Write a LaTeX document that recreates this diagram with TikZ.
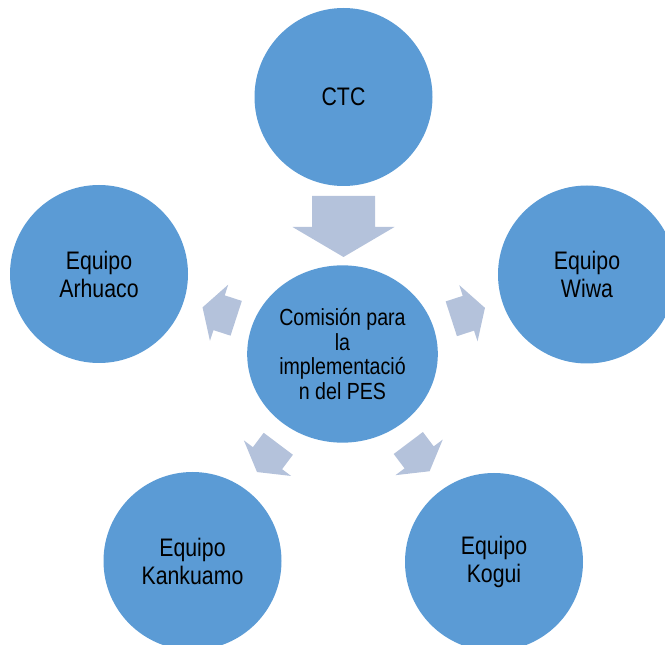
\documentclass[tikz,border=0pt]{standalone}
\usepackage{fontspec}
\setmainfont[FakeStretch=0.84]{Liberation Sans}
\usetikzlibrary{shapes.geometric}
\definecolor{circblue}{RGB}{91,155,213}
\definecolor{arrowfill}{RGB}{180,194,219}
\newcommand\blockarrow[4]{%
  \fill[arrowfill, shift={(#1,#2)}, rotate=#3, scale=#4]
    (0,-31.5) -- (31,-31.5) -- (31,-51) -- (61,0) -- (31,51) -- (31,31.5) -- (0,31.5) -- cycle;}
\begin{document}
\begin{tikzpicture}[x=0.75pt,y=-0.75pt,
  outer/.style={circle, fill=circblue, inner sep=0pt, minimum size=133.5pt,
    align=center, text=black, font=\fontsize{19}{21}\selectfont},
  inner/.style={ellipse, fill=circblue, inner sep=0pt, minimum width=143pt,
    minimum height=133pt, align=center, text=black, font=\fontsize{17.5}{18.3}\selectfont}]
\useasboundingbox (0,0) rectangle (665,645);
\clip (0,0) rectangle (665,645);
\node[outer] (ctc) at (343.5,97) {CTC};
\node[outer] (arh) at (99,274) {Equipo\\Arhuaco};
\node[outer] (wiwa) at (587,274.5) {Equipo\\Wiwa};
\node[outer] (kank) at (192.5,561) {Equipo\\Kankuamo};
\node[outer] (kogui) at (494,562) {Equipo\\Kogui};
\node[inner] (com) at (342.5,354) {Comisión para\\la\\implementació\\n del PES};
\blockarrow{343.5}{196}{-90}{1}
\blockarrow{236.2}{318.3}{162}{0.58}
\blockarrow{451.3}{318.8}{18}{0.58}
\blockarrow{278.3}{443.8}{233}{0.58}
\blockarrow{408.3}{443}{307}{0.58}
\end{tikzpicture}
\end{document}
